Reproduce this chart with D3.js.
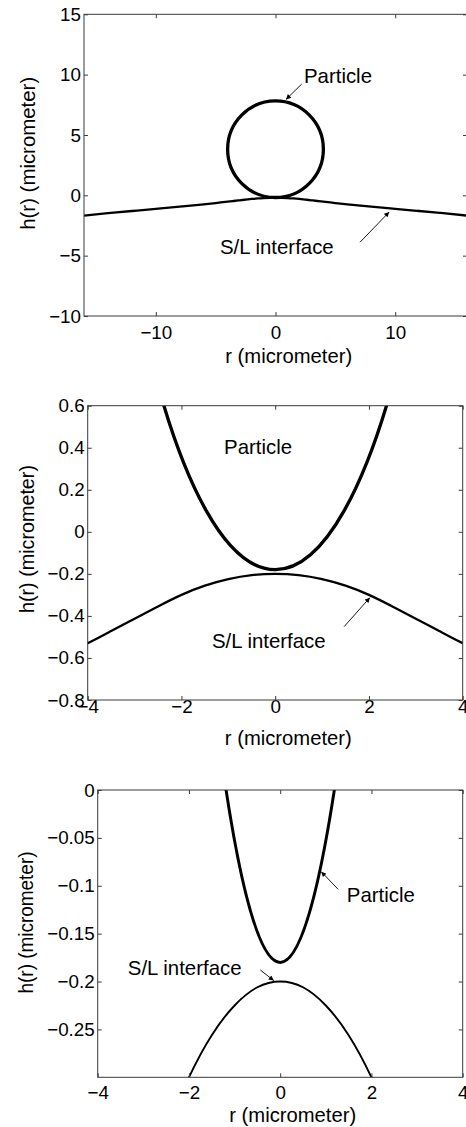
<!DOCTYPE html>
<html><head><meta charset="utf-8">
<script src="https://cdn.jsdelivr.net/npm/d3@7"></script>
<style>
body{margin:0;background:#fff}
svg{display:block}
text{font-family:"Liberation Sans",Arial,Helvetica,sans-serif;fill:#000}
</style>
</head><body>
<svg id="chart" width="466" height="1127"></svg>
<script>
// ---------------- data ----------------
// S/L interface profile h(r)
const interfaceR = [-16,-14,-12,-10,-8,-6,-5,-4,-3.5,-3,-2.5,-2,-1.5,-1,-0.5,0,0.5,1,1.5,2,2.5,3,3.5,4,5,6,8,10,12,14,16];
const interfaceH = [-1.68,-1.48,-1.30,-1.12,-0.94,-0.75,-0.64,-0.53,-0.472,-0.413,-0.355,-0.30,-0.256,-0.225,-0.206,-0.20,-0.206,-0.225,-0.256,-0.30,-0.355,-0.413,-0.472,-0.53,-0.64,-0.75,-0.94,-1.12,-1.30,-1.48,-1.68];
// Particle (sphere cross-section): centre (r, h) and radius, micrometer
const particleCenter = [0, 3.82];
const particleRadius = [4.0];

// tick values and labels
const xTicks1 = [-10, 0, 10];
const xTickLabels1 = ["\u221210", "0", "10"];
const yTicks1 = [-10, -5, 0, 5, 10, 15];
const yTickLabels1 = ["\u221210", "\u22125", "0", "5", "10", "15"];
const xTicks23 = [-4, -2, 0, 2, 4];
const xTickLabels23 = ["\u22124", "\u22122", "0", "2", "4"];
const yTicks2 = [-0.8, -0.6, -0.4, -0.2, 0, 0.2, 0.4, 0.6];
const yTickLabels2 = ["\u22120.8", "\u22120.6", "\u22120.4", "\u22120.2", "0", "0.2", "0.4", "0.6"];
const yTicks3 = [-0.25, -0.2, -0.15, -0.1, -0.05, 0];
const yTickLabels3 = ["\u22120.25", "\u22120.2", "\u22120.15", "\u22120.1", "\u22120.05", "0"];

const xLabelText = "r (micrometer)";
const yLabelText = "h(r) (micrometer)";

// annotations (data coordinates): text anchor and arrow tail -> tip
const annotations1 = [
  {text: "Particle", at: [2.38, 9.28], from: [2.19, 9.22], to: [0.88, 7.95]},
  {text: "S/L interface", at: [-4.64, -4.84], from: [7.06, -3.89], to: [9.5, -1.38]}
];
const annotations2 = [
  {text: "Particle", at: [-1.09, 0.37]},
  {text: "S/L interface", at: [-1.35, -0.553], from: [1.47, -0.451], to: [2.02, -0.313]}
];
const annotations3 = [
  {text: "Particle", at: [1.46, -0.1167], from: [1.27, -0.1037], to: [0.9, -0.0853]},
  {text: "S/L interface", at: [-3.34, -0.1934], from: [-0.436, -0.1879], to: [-0.142, -0.199]}
];

// ---------------- layout ----------------
const panels = [
  {id: 1, xDom: [-16, 16], yDom: [-10, 15], left: 84, right: 467, top: 14.3, bottom: 316,
   xTicks: xTicks1, xLabels: xTickLabels1, yTicks: yTicks1, yLabels: yTickLabels1,
   xPad: 10, xLabelX: 288.7, xLabelY: 363, yLabelX: 34.6, yLabelY: 153.3, yLabelLen: 153,
   partW: 3.3, ifW: 2.3, ann: annotations1},
  {id: 2, xDom: [-4, 4], yDom: [-0.8, 0.6], left: 87.7, right: 462.7, top: 405.7, bottom: 700,
   xTicks: xTicks23, xLabels: xTickLabels23, yTicks: yTicks2, yLabels: yTickLabels2,
   xPad: 0, xLabelX: 288.3, xLabelY: 745, yLabelX: 34, yLabelY: 539, yLabelLen: 148,
   partW: 3.3, ifW: 2.3, ann: annotations2},
  {id: 3, xDom: [-4, 4], yDom: [-0.3, 0], left: 97.7, right: 462.7, top: 790, bottom: 1077.3,
   xTicks: xTicks23, xLabels: xTickLabels23, yTicks: yTicks3, yLabels: yTickLabels3,
   xPad: 8, xLabelX: 292.7, xLabelY: 1122, yLabelX: 33, yLabelY: 922.5, yLabelLen: 142,
   partW: 3.0, ifW: 1.9, ann: annotations3}
];

const svg = d3.select("#chart");
const defs = svg.append("defs");
defs.append("marker").attr("id", "arrow")
  .attr("viewBox", "0 0 10 10").attr("refX", 10).attr("refY", 5)
  .attr("markerWidth", 6).attr("markerHeight", 5).attr("markerUnits", "userSpaceOnUse")
  .attr("orient", "auto")
  .append("path").attr("d", "M0,0 L10,5 L0,10 Z").attr("fill", "#000");

const TICK_FONT = 18.8, LABEL_FONT = 20, ANN_FONT = 20.4, AXIS_COLOR = "#3a3a3a";

const ifData = interfaceR.map((r, i) => ({r, h: interfaceH[i]}));

panels.forEach(p => {
  const x = d3.scaleLinear().domain(p.xDom).range([p.left, p.right]);
  const y = d3.scaleLinear().domain(p.yDom).range([p.bottom, p.top]);
  const g = svg.append("g");

  defs.append("clipPath").attr("id", "clip" + p.id)
    .append("rect").attr("x", p.left).attr("y", p.top)
    .attr("width", p.right - p.left).attr("height", p.bottom - p.top);

  // curves
  const plot = g.append("g").attr("clip-path", `url(#clip${p.id})`);
  plot.append("path").datum(ifData)
    .attr("d", d3.line().x(d => x(d.r)).y(d => y(d.h)).curve(d3.curveNatural))
    .attr("fill", "none").attr("stroke", "#000").attr("stroke-width", p.ifW);
  plot.append("ellipse")
    .attr("cx", x(particleCenter[0])).attr("cy", y(particleCenter[1]))
    .attr("rx", x(particleRadius[0]) - x(0)).attr("ry", y(0) - y(particleRadius[0]))
    .attr("fill", "none").attr("stroke", "#000").attr("stroke-width", p.partW);

  // axes
  const styleAxis = sel => {
    sel.select(".domain").remove();
    sel.selectAll(".tick line").attr("stroke", AXIS_COLOR);
    sel.attr("font-size", TICK_FONT).attr("font-family", '"Liberation Sans",Arial,sans-serif');
    sel.selectAll("text").attr("fill", "#000");
  };
  g.append("g").attr("transform", `translate(0,${p.bottom})`)
    .call(d3.axisBottom(x).tickValues(p.xTicks).tickFormat((d, i) => p.xLabels[i]).tickSize(-4).tickPadding(p.xPad))
    .call(styleAxis);
  g.append("g").attr("transform", `translate(0,${p.top})`)
    .call(d3.axisTop(x).tickValues(p.xTicks).tickFormat("").tickSize(-4))
    .call(styleAxis);
  g.append("g").attr("transform", `translate(${p.left},0)`)
    .call(d3.axisLeft(y).tickValues(p.yTicks).tickFormat((d, i) => p.yLabels[i]).tickSize(-4).tickPadding(3))
    .call(styleAxis);
  g.append("g").attr("transform", `translate(${p.right},0)`)
    .call(d3.axisRight(y).tickValues(p.yTicks).tickFormat("").tickSize(-4))
    .call(styleAxis);

  // box
  g.append("rect").attr("x", p.left).attr("y", p.top)
    .attr("width", p.right - p.left).attr("height", p.bottom - p.top)
    .attr("fill", "none").attr("stroke", AXIS_COLOR).attr("stroke-width", 1);

  // axis labels
  g.append("text").attr("x", p.xLabelX).attr("y", p.xLabelY)
    .attr("text-anchor", "middle").attr("font-size", LABEL_FONT)
    .attr("textLength", 127).attr("lengthAdjust", "spacingAndGlyphs")
    .text(xLabelText);
  g.append("text")
    .attr("transform", `translate(${p.yLabelX},${p.yLabelY}) rotate(-90)`)
    .attr("text-anchor", "middle").attr("font-size", LABEL_FONT)
    .attr("textLength", p.yLabelLen).attr("lengthAdjust", "spacingAndGlyphs")
    .text(yLabelText);

  // annotations
  p.ann.forEach(a => {
    g.append("text").attr("x", x(a.at[0])).attr("y", y(a.at[1]))
      .attr("font-size", ANN_FONT).text(a.text);
    if (a.from) {
      g.append("line")
        .attr("x1", x(a.from[0])).attr("y1", y(a.from[1]))
        .attr("x2", x(a.to[0])).attr("y2", y(a.to[1]))
        .attr("stroke", "#000").attr("stroke-width", 0.9)
        .attr("marker-end", "url(#arrow)");
    }
  });
});
</script>
</body></html>
